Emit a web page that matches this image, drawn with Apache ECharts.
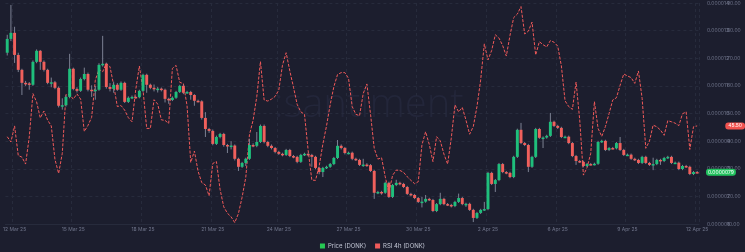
<!DOCTYPE html>
<html><head><meta charset="utf-8">
<script src="https://cdn.jsdelivr.net/npm/echarts@6/dist/echarts.min.js"></script>
<style>html,body{margin:0;padding:0;background:#1c1e2e;}#c{width:745px;height:252px;}</style>
</head><body><div id="c"></div>
<script>
// 4h candles, price in units of 1e-6 USD
const startTime = Date.UTC(2025, 2, 12, 0);
const stepHours = 4;
const labelIndices = [2, 18, 37, 56, 74, 93, 112, 131, 150, 169, 188];
const monthNames = ['Jan','Feb','Mar','Apr','May','Jun','Jul','Aug','Sep','Oct','Nov','Dec'];

const opens = [
12.20,12.70,12.92,12.12,11.58,11.11,11.09,11.04,11.87,12.27,
11.87,11.58,11.11,11.13,10.93,10.28,10.30,10.60,11.62,10.89,
10.82,11.25,11.43,10.86,10.84,10.86,11.76,11.80,10.96,10.89,
11.04,10.86,11.11,10.42,10.57,10.60,10.59,10.82,11.40,11.04,
10.93,10.89,10.90,10.86,10.53,10.49,10.57,10.78,11.00,10.75,
10.78,10.67,10.46,10.44,9.84,9.44,9.37,8.90,9.15,9.26,
8.86,8.83,8.84,8.36,8.07,8.21,8.36,8.86,8.83,8.97,
9.55,8.97,8.83,8.75,8.61,8.54,8.50,8.68,8.46,8.43,
8.25,8.50,8.54,8.50,8.43,8.03,7.88,8.03,8.07,8.17,
8.39,8.83,8.75,8.57,8.58,8.36,8.32,8.14,8.15,8.13,
7.92,7.13,7.16,7.13,7.49,6.98,7.41,7.49,7.45,7.34,
7.09,7.05,6.94,6.80,6.81,6.91,6.87,6.47,6.72,6.91,
6.72,6.69,6.65,6.80,6.94,6.72,6.73,6.51,6.22,6.40,
6.51,6.54,7.85,7.45,7.59,8.17,7.88,7.85,7.70,8.43,
9.41,8.93,8.86,8.07,8.43,9.44,9.12,9.13,9.19,9.70,
9.55,9.48,9.15,9.16,8.93,8.46,8.28,8.25,8.10,8.17,
8.16,8.18,8.97,9.01,8.68,8.75,8.74,8.93,8.68,8.50,
8.51,8.36,8.32,8.21,8.43,8.21,8.14,8.17,8.32,8.28,
8.39,8.43,8.21,8.22,7.99,8.10,8.07,7.81,7.88
];
const closes = [
12.70,12.92,12.12,11.58,11.11,11.09,11.04,11.87,12.27,11.87,
11.58,11.11,11.13,10.93,10.28,10.30,10.60,11.62,10.89,10.82,
11.25,11.43,10.86,10.84,10.86,11.76,11.80,10.96,10.89,11.04,
10.86,11.11,10.42,10.57,10.60,10.59,10.82,11.40,11.04,10.93,
10.89,10.90,10.86,10.53,10.49,10.57,10.78,11.00,10.75,10.78,
10.67,10.46,10.44,9.84,9.44,9.37,8.90,9.15,9.26,8.86,
8.83,8.84,8.36,8.07,8.21,8.36,8.86,8.83,8.97,9.55,
8.97,8.83,8.75,8.61,8.54,8.50,8.68,8.46,8.43,8.25,
8.50,8.54,8.50,8.43,8.03,7.88,8.03,8.07,8.17,8.39,
8.83,8.75,8.57,8.58,8.36,8.32,8.14,8.15,8.13,7.92,
7.13,7.16,7.13,7.49,6.98,7.41,7.49,7.45,7.34,7.09,
7.05,6.94,6.80,6.81,6.91,6.87,6.47,6.72,6.91,6.72,
6.69,6.65,6.80,6.94,6.72,6.73,6.51,6.22,6.40,6.51,
6.54,7.85,7.45,7.59,8.17,7.88,7.85,7.70,8.43,9.41,
8.93,8.86,8.07,8.43,9.44,9.12,9.13,9.19,9.70,9.55,
9.48,9.15,9.16,8.93,8.46,8.28,8.25,8.10,8.17,8.16,
8.18,8.97,9.01,8.68,8.75,8.74,8.93,8.68,8.50,8.51,
8.36,8.32,8.21,8.43,8.21,8.14,8.17,8.32,8.28,8.39,
8.43,8.21,8.22,7.99,8.10,8.07,7.81,7.88,7.87
];
const lows = [
12.10,12.62,11.83,11.50,10.67,11.00,10.86,11.00,11.82,11.58,
11.52,11.06,10.95,10.88,10.22,10.14,10.25,10.55,10.84,10.76,
10.78,11.20,10.80,10.60,10.50,10.82,11.70,10.90,10.80,10.75,
10.82,10.82,10.38,10.38,10.52,10.54,10.55,10.78,10.75,10.88,
10.80,10.76,10.80,10.40,10.35,10.45,10.53,10.74,10.70,10.71,
10.50,10.28,10.40,9.78,9.15,9.30,8.85,8.86,9.10,8.80,
8.57,8.70,8.30,7.92,8.03,8.10,8.32,8.78,8.78,8.93,
8.92,8.78,8.70,8.56,8.50,8.45,8.46,8.42,8.38,8.20,
8.21,8.46,8.45,8.07,7.98,7.80,7.70,7.99,8.03,8.13,
8.35,8.70,8.52,8.52,8.31,8.28,8.10,8.07,8.07,7.88,
6.91,7.08,7.06,7.09,6.94,6.94,7.37,7.40,7.30,7.05,
7.00,6.90,6.76,6.60,6.77,6.83,6.43,6.43,6.68,6.68,
6.65,6.60,6.61,6.76,6.68,6.62,6.47,6.07,6.18,6.36,
6.47,6.50,7.41,7.16,7.55,7.84,7.80,7.66,7.66,8.39,
8.89,8.82,7.88,8.03,8.39,9.08,8.75,9.09,9.15,9.51,
9.44,9.11,9.11,8.89,8.42,8.14,8.21,8.06,8.06,8.12,
8.12,8.14,8.93,8.64,8.64,8.70,8.70,8.64,8.46,8.46,
8.32,8.28,8.17,8.17,8.17,8.10,7.95,8.13,8.14,8.24,
8.35,8.17,8.17,7.95,7.95,8.03,7.77,7.77,7.83
];
const highs = [
12.85,13.93,13.14,12.20,11.62,11.18,11.14,11.92,12.32,12.30,
11.92,11.62,11.30,11.18,10.98,10.55,10.66,12.16,11.66,10.95,
11.30,11.66,11.48,11.02,11.00,11.82,12.81,11.84,11.10,11.15,
11.10,11.16,11.15,10.62,10.65,10.64,10.86,11.44,11.44,11.08,
11.05,10.96,10.94,10.90,10.57,10.62,10.82,11.04,11.04,10.82,
10.82,10.70,10.50,10.48,10.05,9.48,9.42,9.20,9.30,9.30,
8.90,9.00,8.88,8.40,8.25,8.40,9.08,8.92,9.33,9.60,
9.60,9.01,8.88,8.79,8.65,8.58,8.72,8.72,8.50,8.47,
8.54,8.58,8.58,8.54,8.47,8.07,8.07,8.11,8.21,8.43,
9.04,8.88,8.79,8.62,8.62,8.40,8.36,8.36,8.20,8.17,
7.96,7.20,7.20,7.53,7.53,7.45,7.60,7.53,7.49,7.38,
7.13,7.09,6.98,6.98,7.05,6.95,6.91,6.76,7.13,6.95,
6.76,6.73,6.84,7.10,6.98,6.77,6.77,6.55,6.44,6.55,
6.80,7.89,7.89,7.63,8.21,8.21,7.92,7.89,8.47,9.45,
9.66,8.97,8.90,8.47,9.48,9.48,9.17,9.23,10.02,9.74,
9.59,9.52,9.20,9.20,8.97,8.50,8.32,8.29,8.21,8.21,
8.22,9.01,9.05,9.05,8.79,8.79,8.97,9.15,8.72,8.55,
8.55,8.40,8.36,8.47,8.47,8.25,8.40,8.36,8.36,8.43,
8.47,8.47,8.26,8.26,8.14,8.14,8.11,7.92,7.92
];
const rsi4h = [
41.6,39.7,45.5,34.8,34.2,31.7,41.5,57.2,54.2,48.4,
50.9,47.6,45.5,33.4,28.3,35.6,56.9,56.8,55.2,57.1,
55.2,43.5,45.7,48.6,62.1,66.0,65.1,68.2,66.9,60.3,
52.5,52.9,51.2,48.5,47.0,58.5,67.2,58.5,44.6,44.6,
55.0,53.4,47.7,47.5,46.4,66.3,67.4,61.3,60.8,52.8,
32.3,36.4,29.1,25.0,24.1,20.2,31.9,32.6,22.5,16.2,
13.9,12.6,10.5,13.8,19.7,26.9,42.3,47.6,56.1,68.8,
54.9,54.5,55.2,56.2,58.5,67.5,72.0,65.4,59.5,53.3,
50.6,49.7,36.6,25.9,25.8,31.0,38.9,45.5,53.2,59.7,
64.1,64.8,64.8,62.7,52.5,49.7,49.2,57.2,60.7,49.7,
37.4,33.5,34.0,27.1,21.4,27.6,29.5,29.4,28.7,27.1,
25.8,24.6,25.3,38.6,43.4,38.8,32.6,41.6,40.1,35.3,
31.7,41.1,53.1,50.6,52.2,47.6,42.5,45.3,52.5,62.1,
75.2,69.4,72.8,78.5,77.3,74.6,70.8,78.3,84.7,86.0,
88.7,78.8,79.8,83.1,71.2,76.0,74.9,74.1,76.4,75.8,
74.4,67.2,54.6,52.5,51.5,61.4,47.6,27.7,30.4,35.6,
54.3,44.6,41.7,45.3,50.0,54.9,55.7,60.2,64.3,63.6,
63.0,60.9,65.4,55.5,37.4,40.0,45.8,45.2,44.0,42.1,
47.4,47.0,46.5,45.6,49.9,50.6,37.0,45.2,45.5
];

const GREEN = '#1fbf7c';
const RED = '#f0605c';
const WICK = '#7c8193';
const LEG_GREEN = '#26c953';
const LABEL = '#6f748a';
const GRIDC = '#272b3c';

const categories = opens.map(function (_, i) {
  const d = new Date(startTime + i * stepHours * 3600e3);
  return d.getUTCFullYear() + '-' + String(d.getUTCMonth() + 1).padStart(2, '0') + '-' +
    String(d.getUTCDate()).padStart(2, '0') + ' ' + String(d.getUTCHours()).padStart(2, '0') + ':00';
});
function fmtDate(s) {
  const p = s.split(' ')[0].split('-');
  return parseInt(p[2], 10) + ' ' + monthNames[parseInt(p[1], 10) - 1] + ' ' + p[0].slice(2);
}
const showLabel = function (idx) { return labelIndices.indexOf(idx) >= 0; };

const candleData = opens.map(function (o, i) { return [i, o, closes[i], lows[i], highs[i]]; });

function renderCandle(params, api) {
  const i = api.value(0);
  const o = api.value(1), c = api.value(2), l = api.value(3), h = api.value(4);
  const pO = api.coord([i, o]), pC = api.coord([i, c]);
  const pL = api.coord([i, l]), pH = api.coord([i, h]);
  const w = api.size([1, 0])[0] * 0.8;
  const x = pO[0];
  const top = Math.min(pO[1], pC[1]);
  const hgt = Math.max(1.5, Math.abs(pO[1] - pC[1]));
  return {
    type: 'group',
    children: [
      { type: 'line', shape: { x1: x, y1: pH[1], x2: x, y2: pL[1] }, style: { stroke: WICK, lineWidth: 1 } },
      { type: 'rect', shape: { x: x - w / 2, y: top, width: w, height: hgt }, style: { fill: c >= o ? GREEN : RED } }
    ]
  };
}

const chart = echarts.init(document.getElementById('c'), null, { renderer: 'canvas' });
chart.setOption({
  backgroundColor: '#1c1e2e',
  animation: false,
  textStyle: { fontFamily: 'Inter, Roboto, sans-serif' },
  graphic: [{
    type: 'text', left: 274, top: 86, z: 0, silent: true,
    style: { text: ':santiment', fill: '#23263a', font: '300 40px "Open Sans", sans-serif' }
  }],
  grid: { left: 0, right: 46, top: 3, bottom: 28, containLabel: false },
  legend: {
    top: 238, left: 'center', icon: 'rect', itemWidth: 5, itemHeight: 5, itemGap: 9,
    textStyle: { color: '#c4c8d6', fontSize: 6, padding: [0, 0, 0, -2] },
    data: ['Price (DONK)', 'RSI 4h (DONK)']
  },
  xAxis: {
    type: 'category', data: categories, boundaryGap: true,
    axisLine: { lineStyle: { color: GRIDC } },
    axisTick: { show: false },
    axisLabel: { interval: showLabel, formatter: fmtDate, color: LABEL, fontSize: 5, margin: 3 },
    splitLine: { show: true, interval: showLabel, lineStyle: { color: GRIDC, type: [3, 3], width: 1 } }
  },
  yAxis: [{
    type: 'value', position: 'right', min: 6, max: 14, interval: 1,
    axisLine: { show: false }, axisTick: { show: false },
    axisLabel: { color: LABEL, fontSize: 5, margin: 8, formatter: function (v) { return (v * 1e-6).toFixed(6); } },
    splitLine: { show: true, lineStyle: { color: GRIDC, type: [3, 3], width: 1 } },
    axisPointer: {
      show: true, status: 'show', value: closes[closes.length - 1], triggerTooltip: false,
      lineStyle: { opacity: 0 },
      label: { show: true, backgroundColor: '#22c25e', color: '#ffffff', fontSize: 5, padding: [1, 2], margin: 7,
        formatter: function (p) { return (p.value * 1e-6).toFixed(7); } }
    }
  }, {
    type: 'value', position: 'right', offset: 20, min: 10, max: 90, interval: 10,
    axisLine: { show: false }, axisTick: { show: false },
    axisLabel: { color: LABEL, fontSize: 5, margin: 8, formatter: function (v) { return v.toFixed(2); } },
    splitLine: { show: false },
    axisPointer: {
      show: true, status: 'show', value: rsi4h[rsi4h.length - 1], triggerTooltip: false,
      lineStyle: { opacity: 0 },
      label: { show: true, backgroundColor: '#f0524f', color: '#ffffff', fontSize: 5, padding: [1, 3], margin: 8,
        formatter: function (p) { return Number(p.value).toFixed(2); } }
    }
  }],
  series: [{
    name: 'Price (DONK)', type: 'custom', xAxisIndex: 0, yAxisIndex: 0,
    renderItem: renderCandle, data: candleData, encode: { x: 0, y: [1, 2, 3, 4] },
    itemStyle: { color: LEG_GREEN }, clip: true, z: 3
  }, {
    name: 'RSI 4h (DONK)', type: 'line', yAxisIndex: 1, data: rsi4h,
    showSymbol: false, symbol: 'none', smooth: false,
    itemStyle: { color: '#f05a5a' },
    lineStyle: { color: '#f05a5a', width: 1, type: [3, 1.5] }, z: 2
  }]
});
</script></body></html>
